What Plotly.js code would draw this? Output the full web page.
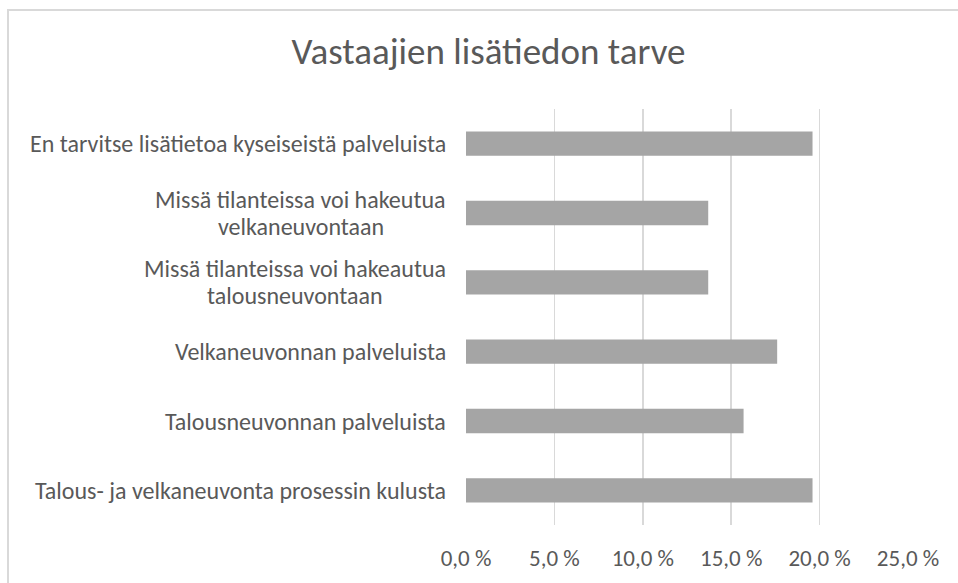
<!DOCTYPE html>
<html>
<head>
<meta charset="utf-8">
<script src="https://cdn.plot.ly/plotly-3.0.1.min.js"></script>
<style>
  html, body { margin: 0; padding: 0; background: #ffffff; }
  #wrap { position: relative; width: 958px; height: 583px; overflow: hidden; }
  #chart { width: 958px; height: 583px; }
  #frame { position: absolute; left: 7px; top: 9px; width: 980px; height: 600px;
           border: 2px solid #d9d9d9; pointer-events: none; box-sizing: border-box; }
</style>
</head>
<body>
<div id="wrap">
  <div id="chart"></div>
  <div id="frame"></div>
</div>
<script>
const categories = [
  "En tarvitse lisätietoa kyseiseistä palveluista",
  "Missä tilanteissa voi hakeutua<br>velkaneuvontaan",
  "Missä tilanteissa voi hakeautua<br>talousneuvontaan",
  "Velkaneuvonnan palveluista",
  "Talousneuvonnan palveluista",
  "Talous- ja velkaneuvonta prosessin kulusta"
];
const values = [19.6, 13.7, 13.7, 17.6, 15.7, 19.6];
const tickValues = [0, 5, 10, 15, 20, 25];
const tickLabels = ["0,0 %", "5,0 %", "10,0 %", "15,0 %", "20,0 %", "25,0 %"];

const FONT = "Carlito, Lato, sans-serif";
const TEXT = "#595959";
const LABEL_SIZE = 24;
const LINE_GAP = 27;
const LABEL_GAP = 20;

const trace = {
  type: "bar",
  orientation: "h",
  x: values,
  y: categories,
  marker: { color: "#a5a5a5" },
  hoverinfo: "x+y"
};

// measure text widths so that multi-line labels are centred line by line
const ctx = document.createElement("canvas").getContext("2d");
ctx.font = LABEL_SIZE + "px " + FONT;
function w(s) { return ctx.measureText(s).width; }

function buildAnnotations() {
  const annotations = [];
  categories.forEach(c => {
    const lines = c.split("<br>");
    const widest = Math.max(...lines.map(w));
    lines.forEach((ln, i) => {
      annotations.push({
        xref: "paper", yref: "y",
        x: 0, y: c,
        xanchor: "center", yanchor: "middle",
        xshift: -LABEL_GAP - widest / 2,
        yshift: ((lines.length - 1) / 2 - i) * LINE_GAP,
        align: "center",
        showarrow: false,
        borderpad: 0,
        text: ln,
        font: { family: FONT, size: LABEL_SIZE, color: TEXT }
      });
    });
  });
  return annotations;
}

function draw() {
  ctx.font = LABEL_SIZE + "px " + FONT;
  const layout = {
    width: 958, height: 583,
    margin: { l: 466, r: 50, t: 109, b: 58, pad: 0 },
    paper_bgcolor: "#ffffff",
    plot_bgcolor: "#ffffff",
    showlegend: false,
    bargap: 0.65,
    title: {
      text: "Vastaajien lisätiedon tarve",
      x: 0.51, xanchor: "center",
      y: 0.912, yref: "container", yanchor: "middle",
      font: { family: FONT, size: 37, color: TEXT }
    },
    xaxis: {
      range: [0, 25],
      tickvals: tickValues,
      ticktext: tickLabels,
      showgrid: true,
      gridcolor: "#d9d9d9",
      gridwidth: 1.5,
      zeroline: false,
      showline: false,
      ticks: "",
      ticklabelstandoff: 17,
      tickfont: { family: FONT, size: 23, color: TEXT },
      fixedrange: true
    },
    yaxis: {
      type: "category",
      autorange: "reversed",
      showticklabels: false,
      showgrid: false,
      zeroline: false,
      showline: false,
      ticks: "",
      fixedrange: true
    },
    annotations: buildAnnotations()
  };
  Plotly.newPlot("chart", [trace], layout, { displayModeBar: false, staticPlot: true });
}

if (document.fonts && document.fonts.load) {
  document.fonts.load(LABEL_SIZE + "px Lato").then(draw, draw);
} else {
  draw();
}
</script>
</body>
</html>
